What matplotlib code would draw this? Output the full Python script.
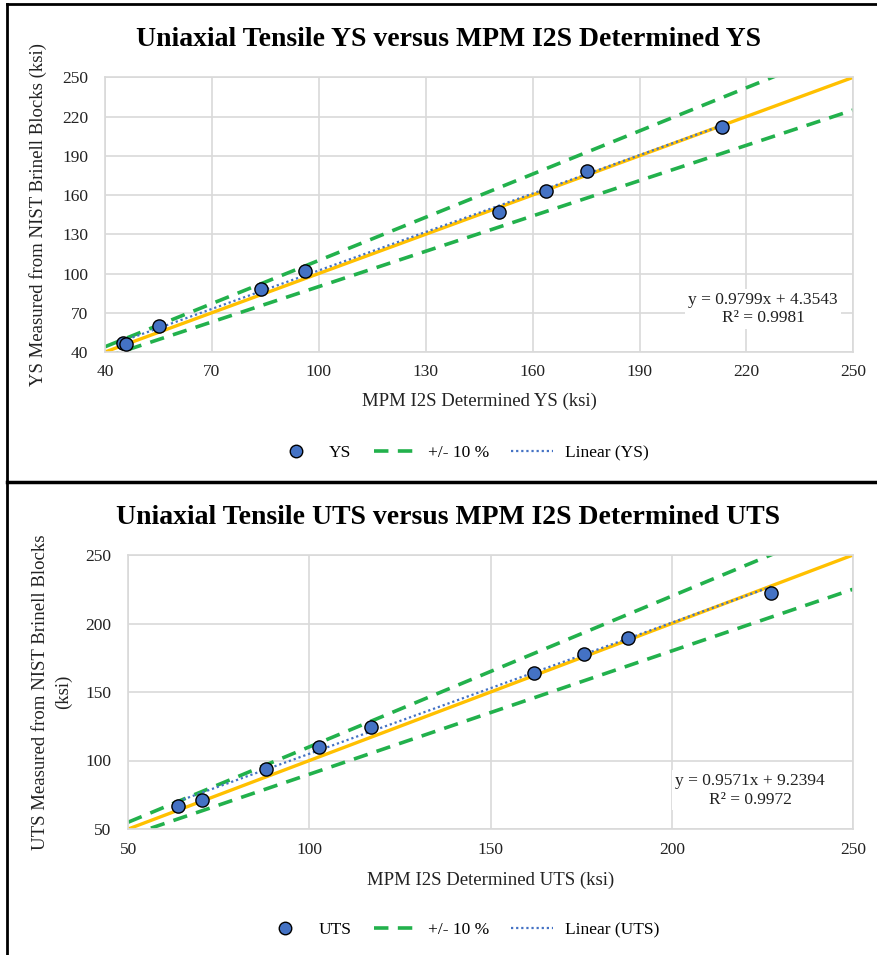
import matplotlib
matplotlib.use("Agg")
import matplotlib.pyplot as plt
from matplotlib.lines import Line2D
import numpy as np

plt.rcParams['font.family'] = ['Liberation Serif', 'DejaVu Serif']

# --- data ---
ys_x = [45.0, 45.9, 55.2, 83.8, 96.1, 150.5, 163.7, 175.4, 213.1]
ys_y = [46.7, 45.9, 59.6, 88.2, 101.7, 147.3, 163.1, 178.4, 212.3]
ys_fit = [0.9799, 4.3543]
ys_r2 = 0.9981
ys_ticks = [40, 70, 100, 130, 160, 190, 220, 250]

uts_x = [63.8, 70.3, 88.0, 102.6, 117.0, 161.9, 175.7, 188.0, 227.5]
uts_y = [67.0, 71.2, 93.8, 110.1, 124.7, 164.1, 177.5, 189.2, 222.5]
uts_fit = [0.9571, 9.2394]
uts_r2 = 0.9972
uts_ticks = [50, 100, 150, 200, 250]

W, H = 878, 955
BLUE = '#4472C4'
GREEN = '#22B14C'
ORANGE = '#FFC000'
GRID = '#D9D9D9'

fig = plt.figure(figsize=(W / 100, H / 100), dpi=100)


def fx(px):
    return px / W


def fy(py):
    return 1 - py / H


def panel(box, xs, ys, fit, r2, ticks, name, title, ylabel, ylabel_x, title_y,
          xlabel_y, legend_y, eq_xy):
    l, t, r, b = box
    ax = fig.add_axes([fx(l), fy(b), fx(r - l), fy(t) - fy(b)])
    lo, hi = ticks[0], ticks[-1]
    ax.set_xlim(lo, hi)
    ax.set_ylim(lo, hi)
    ax.set_xticks(ticks)
    ax.set_yticks(ticks)
    ax.grid(True, color=GRID, lw=1.2)
    ax.set_axisbelow(True)
    for s in ax.spines.values():
        s.set_color(GRID)
        s.set_linewidth(1.2)
    ax.tick_params(length=0, labelsize=12.5, colors='#222222')
    ax.tick_params(axis='y', pad=12)
    ax.tick_params(axis='x', pad=9)

    xx = np.array([lo, hi], dtype=float)
    ax.plot(xx, xx, color=ORANGE, lw=2.4, zorder=2)
    ax.plot(xx, 1.1 * xx, color=GREEN, lw=2.6, dashes=(4, 2.6), zorder=2)
    ax.plot(xx, 0.9 * xx, color=GREEN, lw=2.6, dashes=(4, 2.6), zorder=2)
    tx = np.array([min(xs), max(xs)])
    ax.plot(tx, fit[0] * tx + fit[1], color=BLUE, lw=1.6, ls=(0, (1, 1.3)), zorder=3)
    ax.plot(xs, ys, 'o', ms=9.5, mfc=BLUE, mec='black', mew=1.0, zorder=4)

    ax.text(fx(eq_xy[0]), fy(eq_xy[1]),
            'y = %.4fx + %.4f\nR² = %.4f' % (fit[0], fit[1], r2),
            transform=fig.transFigure, ha='center', va='center', fontsize=12.5,
            color='#222222', linespacing=1.25,
            bbox=dict(facecolor='white', edgecolor='none', pad=2), zorder=5)

    fig.text(fx(448), fy(title_y), title, ha='center', va='center',
             fontsize=20, fontweight='bold')
    fig.text(fx((l + r) / 2), fy(xlabel_y), 'MPM I2S Determined %s (ksi)' % name,
             ha='center', va='center', fontsize=13.5, color='#222222')
    fig.text(fx(ylabel_x), fy((t + b) / 2), ylabel, ha='center', va='center',
             rotation=90, fontsize=13.5, color='#222222', linespacing=1.45)

    handles = [
        Line2D([], [], ls='none', marker='o', ms=9, mfc=BLUE, mec='black', mew=1.0),
        Line2D([], [], color=GREEN, lw=2.6, dashes=(4, 2.6)),
        Line2D([], [], color=BLUE, lw=1.6, ls=(0, (1, 1.3))),
    ]
    labels = [name, '+/- 10 %', 'Linear (%s)' % name]
    fig.legend(handles, labels, loc='center', bbox_to_anchor=(fx(462), fy(legend_y)),
               ncol=3, frameon=False, fontsize=12.5, handlelength=2.4,
               columnspacing=1.3, handletextpad=0.7)
    return ax


panel((105, 77.3, 853.3, 352), ys_x, ys_y, ys_fit, ys_r2, ys_ticks, 'YS',
      'Uniaxial Tensile YS versus MPM I2S Determined YS',
      'YS Measured from NIST Brinell Blocks (ksi)', 38, 39, 401, 453, (763, 309))

panel((128.3, 555, 853, 829), uts_x, uts_y, uts_fit, uts_r2, uts_ticks, 'UTS',
      'Uniaxial Tensile UTS versus MPM I2S Determined UTS',
      'UTS Measured from NIST Brinell Blocks\n(ksi)', 52, 517, 880, 930, (750, 790))

# panel borders
fig.add_artist(Line2D([fx(7), fx(878)], [fy(4), fy(4)], color='black', lw=2.0))
fig.add_artist(Line2D([fx(7), fx(7)], [fy(4), fy(955)], color='black', lw=2.0))
fig.add_artist(Line2D([fx(7), fx(878)], [fy(482), fy(482)], color='black', lw=2.5))

fig.savefig('out.png', dpi=100)
